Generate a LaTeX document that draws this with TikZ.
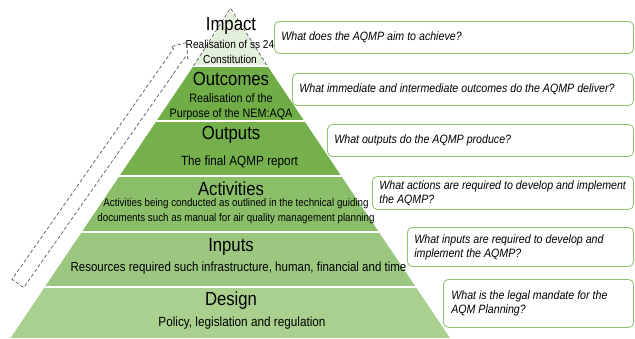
\documentclass[tikz,border=0pt]{standalone}
\usepackage{fontspec}
\setmainfont{Liberation Sans}[FakeStretch=0.88]
\usetikzlibrary{calc,shapes.arrows}

\definecolor{impactgreen}{HTML}{E2EFDA}
\definecolor{outcomegreen}{HTML}{70AD47}
\definecolor{outputgreen}{HTML}{75B04D}
\definecolor{activitygreen}{HTML}{8ABE69}
\definecolor{inputgreen}{HTML}{9CC781}
\definecolor{designgreen}{HTML}{A9D08E}
\definecolor{boxgreen}{HTML}{93C272}
\definecolor{dashgray}{HTML}{5A5A5A}

\tikzset{
  level/.style={font=\fontsize{13.5}{15}\selectfont, anchor=base, inner sep=0pt},
  blurb/.style={font=\fontsize{8.7}{10.7}\selectfont, align=center, inner sep=0pt},
  qbox/.style={draw=boxgreen, line width=0.6pt, rounded corners=3.5pt, fill=white,
    anchor=north west, inner sep=0pt},
  question/.style={font=\fontsize{8.6}{10}\selectfont\itshape, align=left,
    anchor=west, inner sep=0pt},
  climb/.style={draw=dashgray, line width=0.5pt, dash pattern=on 2.5pt off 1.6pt,
    single arrow, single arrow head extend=0.08cm, single arrow tip angle=80,
    inner sep=0.17cm},
}

\begin{document}
\begin{tikzpicture}[x=0.025cm,y=-0.025cm]
  \useasboundingbox (0,0) rectangle (635,338);

  \coordinate (apex) at (230.5,11);
  \coordinate (bl) at (10.5,338);
  \coordinate (br) at (450,338);

  % pyramid bands
  \begin{scope}
    \clip (apex) -- (bl) -- (br) -- cycle;
    \fill[impactgreen] (0,0) rectangle (635,66);
    \fill[outcomegreen] (0,66) rectangle (635,121);
    \fill[outputgreen] (0,121) rectangle (635,176);
    \fill[activitygreen] (0,176) rectangle (635,232);
    \fill[inputgreen] (0,232) rectangle (635,287);
    \fill[designgreen] (0,287) rectangle (635,338);
    \foreach \y in {66,121,176,232,287}
      \draw[white, line width=0.9pt] (0,\y) -- (635,\y);
  \end{scope}

  % dashed top of the pyramid
  \draw[dashgray, line width=0.5pt, dash pattern=on 2.5pt off 1.6pt]
    ($(apex)!55/327!(bl)$) -- ([yshift=2pt]apex) -- ($(apex)!55/327!(br)$);

  % question boxes
  \node[qbox, minimum width=8.975cm, minimum height=0.8cm] (q1) at (274,21) {};
  \node[qbox, minimum width=8.525cm, minimum height=0.8cm] (q2) at (292,73) {};
  \node[qbox, minimum width=7.65cm, minimum height=0.8cm] (q3) at (327,124) {};
  \node[qbox, minimum width=6.525cm, minimum height=0.825cm] (q4) at (372,176) {};
  \node[qbox, minimum width=5.65cm, minimum height=0.975cm] (q5) at (407,227) {};
  \node[qbox, minimum width=4.75cm, minimum height=1.2cm] (q6) at (443,279) {};

  \node[question] (t1) at ([xshift=0.175cm]q1.west) {What does the AQMP aim to achieve?};
  \node[question] (t2) at ([xshift=0.175cm]q2.west) {What immediate and intermediate outcomes do the AQMP deliver?};
  \node[question] (t3) at ([xshift=0.175cm]q3.west) {What outputs do the AQMP produce?};
  \node[question] (t4) at ([xshift=0.175cm]q4.west) {What actions are required to develop and implement\\the AQMP?};
  \node[question] (t5) at ([xshift=0.175cm]q5.west) {What inputs are required to develop and\\implement the AQMP?};
  \node[question] (t6) at ([xshift=0.2cm]q6.west) {What is the legal mandate for the\\AQM Planning?};

  % level names and what they hold
  \node[level] (impact) at (231,30) {Impact};
  \node[blurb, font=\fontsize{8.2}{10.7}\selectfont] (impacttxt) at (230,52) {Realisation of ss 24\\Constitution};
  \node[level] (outcomes) at (231,85) {Outcomes};
  \node[blurb] (outcomestxt) at (231,106.5) {Realisation of the\\Purpose of the NEM:AQA};
  \node[level] (outputs) at (231,139.5) {Outputs};
  \node[blurb, anchor=base, font=\fontsize{9.5}{11}\selectfont] (outputstxt) at (239.5,165) {The final AQMP report};
  \node[level] (activities) at (231,195) {Activities};
  \node[blurb, font=\fontsize{7.9}{10.7}\selectfont] (activitiestxt) at (236,211) {Activities being conducted as outlined in the technical guiding\\documents such as manual for air quality management planning};
  \node[level] (inputs) at (231,251.5) {Inputs};
  \node[blurb, anchor=base, font=\fontsize{9.3}{11}\selectfont] (inputstxt) at (238.5,271.7) {Resources required such infrastructure, human, financial and time};
  \node[level] (design) at (231,305) {Design};
  \node[blurb, anchor=base, font=\fontsize{9.5}{11}\selectfont] (designtxt) at (242,326) {Policy, legislation and regulation};

  % rising arrow beside the pyramid
  \node[climb, rotate=55, minimum height=7.35cm] (rise) at (99.75,166.5) {};
\end{tikzpicture}
\end{document}
